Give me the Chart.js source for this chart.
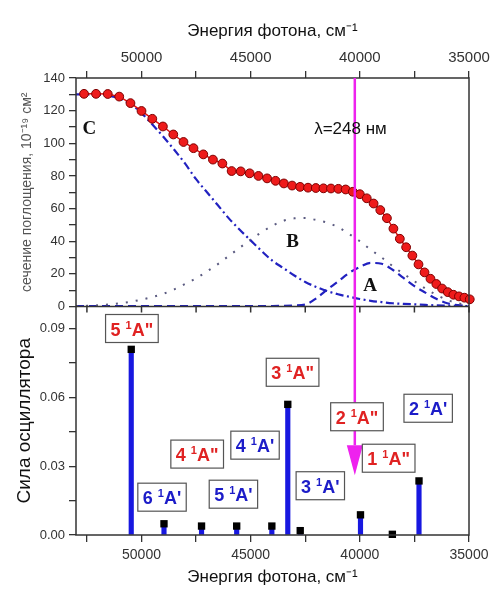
<!DOCTYPE html>
<html lang="ru">
<head>
<meta charset="UTF-8">
<title>Сечение поглощения и сила осциллятора</title>
<script src="https://cdn.jsdelivr.net/npm/chart.js"></script>
<style>
  html, body { margin: 0; padding: 0; background: #fff; }
</style>
</head>
<body>
<canvas id="chart" width="496" height="589"></canvas>
<script>
// measured absorption cross section (10^-19 cm^2), every 2 nm from 190 to 286 nm
const expNu = [52632, 52083, 51546, 51020, 50505, 50000, 49505, 49020, 48544, 48077,
  47619, 47170, 46729, 46296, 45872, 45455, 45045, 44643, 44248, 43860,
  43478, 43103, 42735, 42373, 42017, 41667, 41322, 40984, 40650, 40323,
  40000, 39683, 39370, 39063, 38760, 38462, 38168, 37879, 37594, 37313,
  37037, 36765, 36496, 36232, 35971, 35714, 35461, 35211, 34965];
const expSigma = [130.3, 130.3, 130.2, 128.6, 124.6, 119.8, 115, 110.3, 105.4, 100.8,
  97, 93.2, 90, 87.6, 83, 82.8, 81.6, 80, 78.5, 77,
  75.4, 74.1, 73.3, 72.8, 72.6, 72.4, 72.3, 72.1, 71.7, 70.3,
  68.8, 66.3, 63.1, 59.1, 54.1, 47.7, 41.5, 36.3, 31.2, 25.8,
  20.9, 17, 13.8, 11, 8.8, 7.2, 6.2, 5.4, 4.4];

// fitted components A, B, C
const compNu = [53000, 52500, 52000, 51500, 51000, 50500, 50000, 49500, 49000, 48500,
  48000, 47500, 47000, 46500, 46000, 45500, 45000, 44500, 44000, 43500,
  43000, 42500, 42000, 41500, 41000, 40500, 40000, 39500, 39000, 38500,
  38000, 37500, 37000, 36500, 36000, 35500, 35000];
const bandC = [130, 130, 129.8, 129, 127.5, 124, 118.5, 111.5, 104, 96,
  87.5, 78, 70, 62, 54, 47, 40.5, 34, 28, 23.5,
  19, 15, 12, 9.5, 7.5, 6, 4.6, 3.5, 2.7, 2,
  1.6, 1.3, 1, 0.7, 0.5, 0.3, 0.2];
const bandB = [0.2, 0.4, 0.7, 1.2, 2, 2.9, 4.2, 5.8, 7.8, 10.5,
  13.8, 17.3, 21.5, 26, 31, 36, 41, 45.5, 49.5, 52.5,
  54, 54.2, 53, 51.4, 48.7, 44.5, 40, 34.8, 30, 24.8,
  20, 15.5, 11, 7.2, 4, 2, 0.8];
const bandA = [0.3, 0.3, 0.3, 0.3, 0.3, 0.3, 0.3, 0.3, 0.3, 0.3,
  0.3, 0.3, 0.3, 0.3, 0.3, 0.3, 0.3, 0.3, 0.3, 0.4,
  0.6, 1.2, 5, 10.3, 15.3, 20.5, 24.2, 26.7, 26.2, 22.5,
  17.5, 12.5, 8.5, 4.7, 2, 0.8, 0.3];

// calculated transitions: energy (cm^-1) and oscillator strength
const oscNu = [50470, 48970, 47250, 45640, 44030, 43300, 42730, 39970, 38510, 37290];
const oscF  = [0.081, 0.0049, 0.0039, 0.0039, 0.0039, 0.057, 0.0019, 0.0088, 0.0003, 0.0236];

// state labels: number, symmetry, anchor (cm^-1, oscillator strength)
const stateNum = ['5', '6', '4', '5', '4', '3', '3', '2', '2', '1'];
const stateSym = ['A"', "A'", 'A"', "A'", "A'", 'A"', "A'", 'A"', "A'", 'A"'];
const stateNu  = [50440, 49060, 47450, 45790, 44800, 43080, 41810, 40130, 36870, 38680];
const stateF   = [0.0901, 0.0165, 0.0353, 0.0178, 0.0392, 0.0710, 0.0215, 0.0516, 0.0553, 0.0335];

// band letters in the upper panel (cm^-1, cross section)
const bandLetters = ['C', 'B', 'A'];
const letterNu = [52390, 43080, 39530];
const letterY  = [108.6, 39.6, 12.4];

// excitation line, 248 nm
const laserNu = 40230;
const laserText = 'λ=248 нм';
const laserTextNu = 40430, laserTextY = 108.6;
const arrowBaseF = 0.0392, arrowTipF = 0.0261;

// axis ticks
const xMajor = [50000, 45000, 40000, 35000];
const xMinor = [52500, 47500, 42500, 37500];
const yTopMajor = [0, 20, 40, 60, 80, 100, 120, 140];
const yTopMinor = [10, 30, 50, 70, 90, 110, 130];
const yBotMajor = [0, 0.03, 0.06, 0.09];
const yBotMinor = [0.015, 0.045, 0.075];

const SANS = "'Liberation Sans', Arial, sans-serif";
const SERIF = "'Liberation Serif', 'Times New Roman', serif";
const RED = '#e02222';
const BLUE = '#1c1cc8';
const AXIS = '#333';

const pts = (xs, ys) => xs.map((x, i) => ({x: x, y: ys[i]}));
const allTicks = (a, b) => a.concat(b).sort((p, q) => p - q).map(v => ({value: v}));

function drawState(ctx, cx, cy, num, sym) {
  const big = 'bold 18px ' + SANS, small = 'bold 11px ' + SANS;
  ctx.font = big;
  const w1 = ctx.measureText(num + ' ').width;
  const w3 = ctx.measureText(sym).width;
  ctx.font = small;
  const w2 = ctx.measureText('1').width;
  const tw = w1 + w2 + w3, bw = tw + 10, bh = 28;
  ctx.fillStyle = '#fff';
  ctx.fillRect(cx - bw / 2, cy - bh / 2, bw, bh);
  ctx.strokeStyle = '#555';
  ctx.lineWidth = 1.2;
  ctx.strokeRect(cx - bw / 2, cy - bh / 2, bw, bh);
  ctx.fillStyle = sym === 'A"' ? RED : BLUE;
  ctx.textAlign = 'left';
  ctx.textBaseline = 'alphabetic';
  let tx = cx - tw / 2;
  const base = cy + 7;
  ctx.font = big; ctx.fillText(num + ' ', tx, base); tx += w1;
  ctx.font = small; ctx.fillText('1', tx, base - 7); tx += w2;
  ctx.font = big; ctx.fillText(sym, tx, base);
}

const overlay = {
  id: 'overlay',
  afterDatasetsDraw(chart) {
    const {ctx, chartArea: a} = chart;
    const {x, yTop, yBot} = chart.scales;
    ctx.save();
    // frame + panel separator
    ctx.strokeStyle = AXIS;
    ctx.lineWidth = 1.5;
    ctx.strokeRect(a.left, a.top, a.right - a.left, a.bottom - a.top);
    const sepY = yTop.bottom;
    ctx.beginPath();
    ctx.moveTo(a.left, sepY); ctx.lineTo(a.right, sepY);
    xMajor.concat(xMinor).forEach(v => {
      const px = x.getPixelForValue(v);
      ctx.moveTo(px, sepY); ctx.lineTo(px, sepY + 6);
    });
    ctx.stroke();

    // excitation line with arrow
    const lx = x.getPixelForValue(laserNu);
    const yb = yBot.getPixelForValue(arrowBaseF), yt = yBot.getPixelForValue(arrowTipF);
    ctx.strokeStyle = '#ee22ee';
    ctx.lineWidth = 2.5;
    ctx.beginPath();
    ctx.moveTo(lx, a.top); ctx.lineTo(lx, yb);
    ctx.stroke();
    ctx.fillStyle = '#ee22ee';
    ctx.beginPath();
    ctx.moveTo(lx - 8, yb); ctx.lineTo(lx + 8, yb); ctx.lineTo(lx, yt);
    ctx.closePath();
    ctx.fill();

    ctx.fillStyle = '#111';
    ctx.textAlign = 'center';
    ctx.textBaseline = 'middle';
    ctx.font = '17px ' + SANS;
    ctx.fillText(laserText, x.getPixelForValue(laserTextNu), yTop.getPixelForValue(laserTextY));

    ctx.font = 'bold 19px ' + SERIF;
    bandLetters.forEach((t, i) => {
      ctx.fillText(t, x.getPixelForValue(letterNu[i]), yTop.getPixelForValue(letterY[i]));
    });

    stateNum.forEach((n, i) => {
      drawState(ctx, x.getPixelForValue(stateNu[i]), yBot.getPixelForValue(stateF[i]), n, stateSym[i]);
    });
    ctx.restore();
  }
};

const tickFont = size => ({family: SANS, size: size});

new Chart(document.getElementById('chart'), {
  type: 'scatter',
  data: {
    datasets: [
      {
        type: 'line', label: 'эксперимент', data: pts(expNu, expSigma),
        xAxisID: 'x', yAxisID: 'yTop', showLine: true, order: 0, clip: false,
        borderColor: '#e01010', borderWidth: 1.5,
        pointRadius: 4.4, pointBackgroundColor: '#ee1b1b',
        pointBorderColor: '#7d0000', pointBorderWidth: 1
      },
      {
        type: 'line', label: 'C', data: pts(compNu, bandC),
        xAxisID: 'x', yAxisID: 'yTop', showLine: true, order: 1, pointRadius: 0,
        borderColor: '#2222c0', borderWidth: 2.2, borderDash: [8, 3.5, 2, 3.5],
        cubicInterpolationMode: 'monotone'
      },
      {
        type: 'line', label: 'B', data: pts(compNu, bandB),
        xAxisID: 'x', yAxisID: 'yTop', showLine: true, order: 1, pointRadius: 0,
        borderColor: '#5a5a80', borderWidth: 2, borderDash: [2, 8],
        cubicInterpolationMode: 'monotone'
      },
      {
        type: 'line', label: 'A', data: pts(compNu, bandA),
        xAxisID: 'x', yAxisID: 'yTop', showLine: true, order: 1, pointRadius: 0,
        borderColor: '#2222c0', borderWidth: 2.2, borderDash: [8, 5],
        cubicInterpolationMode: 'monotone'
      },
      {
        type: 'scatter', label: 'f', data: pts(oscNu, oscF),
        xAxisID: 'x', yAxisID: 'yBot', order: 0, clip: false,
        pointStyle: 'rect', pointRadius: 5.2, pointBorderWidth: 0,
        pointBackgroundColor: '#000'
      },
      {
        type: 'bar', label: 'f bars', data: pts(oscNu, oscF),
        xAxisID: 'x', yAxisID: 'yBot', order: 1,
        backgroundColor: '#1818e0', barThickness: 4.5
      }
    ]
  },
  options: {
    responsive: false,
    animation: false,
    layout: {padding: {left: 4, right: 27, top: 0, bottom: 0}},
    plugins: {legend: {display: false}, tooltip: {enabled: false}},
    scales: {
      x: {
        type: 'linear', position: 'bottom', reverse: true, min: 35000, max: 53000,
        offset: false,
        afterBuildTicks: s => { s.ticks = allTicks(xMajor, xMinor); },
        afterFit: s => { s.height = 54; },
        ticks: {
          autoSkip: false, maxRotation: 0, padding: 5, color: AXIS, font: tickFont(14),
          callback: v => xMajor.includes(v) ? String(v) : ''
        },
        grid: {drawOnChartArea: false, tickLength: 7, color: AXIS, lineWidth: 1.3, offset: false},
        border: {display: false},
        title: {display: true, text: 'Энергия фотона, см⁻¹', color: '#111',
                font: {family: SANS, size: 17}, padding: {top: 0, bottom: 1}}
      },
      xTop: {
        type: 'linear', position: 'top', reverse: true, min: 35000, max: 53000,
        offset: false,
        afterBuildTicks: s => { s.ticks = allTicks(xMajor, xMinor); },
        afterFit: s => { s.height = 78; },
        ticks: {
          autoSkip: false, maxRotation: 0, padding: 4, color: AXIS, font: tickFont(15),
          callback: v => xMajor.includes(v) ? String(v) : ''
        },
        grid: {drawOnChartArea: false, tickLength: 7, color: AXIS, lineWidth: 1.3},
        border: {display: false},
        title: {display: true, text: 'Энергия фотона, см⁻¹', color: '#111',
                font: {family: SANS, size: 17}, padding: {top: 21, bottom: 0}}
      },
      yBot: {
        type: 'linear', position: 'left', stack: 'panels', stackWeight: 1,
        min: 0, max: 0.0997,
        afterBuildTicks: s => { s.ticks = allTicks(yBotMajor, yBotMinor); },
        afterFit: s => { s.width = 72; },
        ticks: {
          autoSkip: false, padding: 4, color: AXIS, font: tickFont(13),
          callback: v => yBotMajor.includes(v) ? v.toFixed(2) : ''
        },
        grid: {drawOnChartArea: false, tickLength: 7, color: AXIS, lineWidth: 1.3},
        border: {display: false},
        title: {display: true, text: 'Сила осциллятора', color: '#111',
                font: {family: SANS, size: 19}, padding: {top: 9, bottom: 0}}
      },
      yTop: {
        type: 'linear', position: 'left', stack: 'panels', stackWeight: 1,
        min: 0, max: 140,
        afterBuildTicks: s => { s.ticks = allTicks(yTopMajor, yTopMinor); },
        afterFit: s => { s.width = 72; },
        ticks: {
          autoSkip: false, padding: 4, color: AXIS, font: tickFont(13),
          callback: v => yTopMajor.includes(v) ? String(v) : ''
        },
        grid: {drawOnChartArea: false, tickLength: 7, color: AXIS, lineWidth: 1.3},
        border: {display: false},
        title: {display: true, text: 'сечение поглощения, 10⁻¹⁹ см²', color: '#555',
                font: {family: SANS, size: 14}, padding: {top: 15, bottom: 0}}
      }
    }
  },
  plugins: [overlay]
});
</script>
</body>
</html>
